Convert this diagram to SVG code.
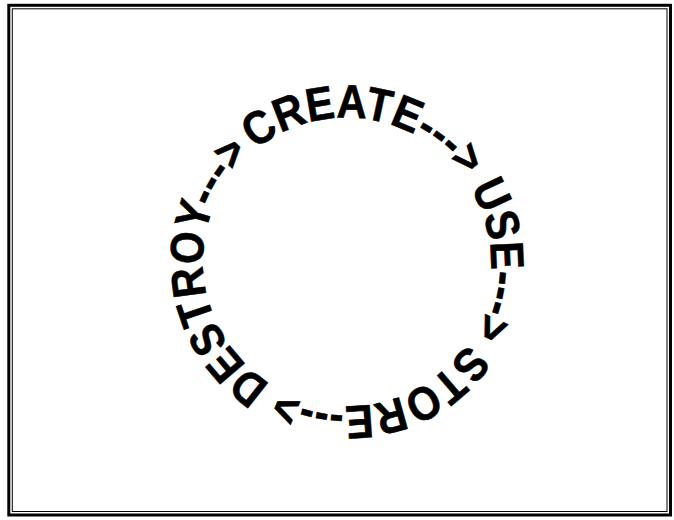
<svg xmlns="http://www.w3.org/2000/svg" width="674" height="520" viewBox="0 0 674 520">
  <style>
    .frame-outer { fill: none; stroke: #000; stroke-width: 3; }
    .frame-inner { fill: none; stroke: #000; stroke-width: 1; }
    .ring { font-family: "Liberation Sans", Arial, Helvetica, sans-serif; font-weight: bold; font-size: 47px; fill: #000; stroke: #000; stroke-width: 0.6; stroke-linejoin: round; }
  </style>
  <defs>
    <path id="ringPath" d="M 255.16 149.8 A 145 145 0 0 1 438.84 374.2 A 145 145 0 0 1 255.16 149.8 A 145 145 0 0 1 438.84 374.2" fill="none"/>
  </defs>
  <rect width="674" height="520" fill="#fff"/>
  <g id="frame">
    <rect class="frame-outer" x="8.8" y="5.3" width="661.7" height="509.7"/>
    <rect class="frame-inner" x="12.3" y="8.8" width="654.7" height="502.7"/>
  </g>
  <g id="cycle">
    <text class="ring"><textPath href="#ringPath" textLength="899" lengthAdjust="spacingAndGlyphs">CREATE---&gt; USE---&gt; STORE---&gt; DESTROY---&gt;</textPath></text>
  </g>
</svg>
